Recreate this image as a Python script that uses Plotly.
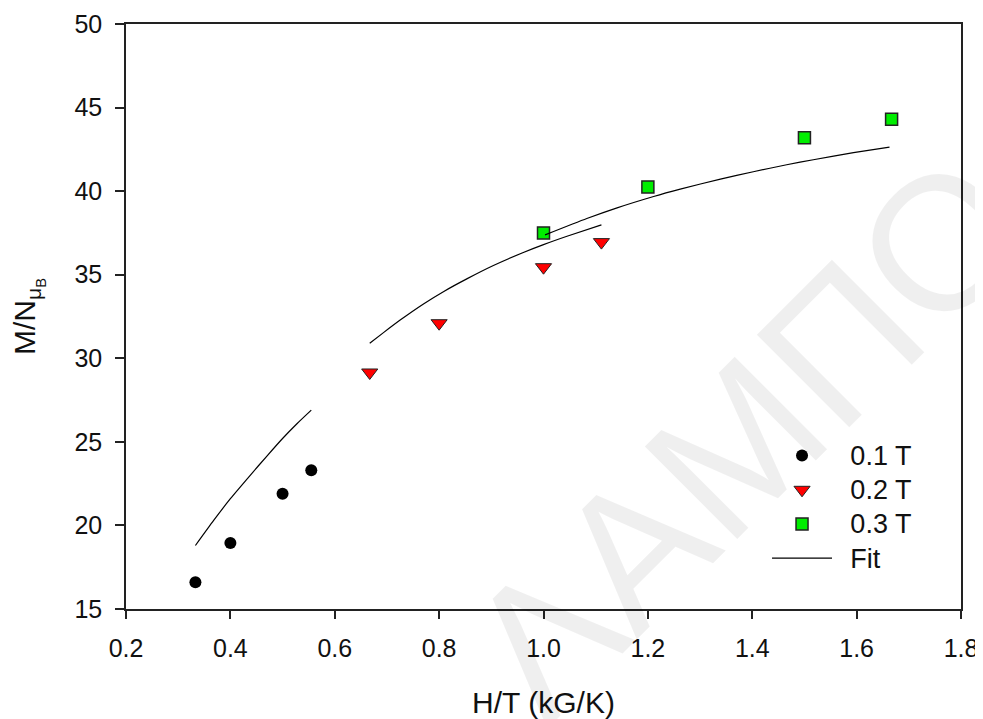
import plotly.graph_objects as go

# Data
x_01 = [0.333, 0.4, 0.5, 0.555]
y_01 = [16.6, 18.95, 21.9, 23.3]
x_02 = [0.667, 0.8, 1.0, 1.111]
y_02 = [29.15, 32.1, 35.45, 36.95]
x_03 = [1.0, 1.2, 1.5, 1.667]
y_03 = [37.5, 40.25, 43.2, 44.3]

fit1_x = [0.333, 0.368, 0.4, 0.438, 0.47, 0.5, 0.528, 0.555]
fit1_y = [18.8, 20.3, 21.6, 23.0, 24.15, 25.2, 26.1, 26.9]
fit2_x = [0.667, 0.694, 0.726, 0.77, 0.809, 0.853, 0.904, 0.959, 1.0, 1.045, 1.111]
fit2_y = [30.9, 31.55, 32.3, 33.25, 34.0, 34.75, 35.55, 36.3, 36.8, 37.3, 37.98]
fit3_x = [1.003, 1.083, 1.141, 1.211, 1.262, 1.339, 1.402, 1.466, 1.517, 1.594, 1.663]
fit3_y = [37.38, 38.36, 39.0, 39.68, 40.12, 40.72, 41.16, 41.58, 41.88, 42.3, 42.63]

x_ticks = [0.2, 0.4, 0.6, 0.8, 1.0, 1.2, 1.4, 1.6, 1.8]
y_ticks = [15, 20, 25, 30, 35, 40, 45, 50]

FONT = "Arial, Liberation Sans, sans-serif"
TXT = "#111111"


def lg(s):
    return "\u00a0\u00a0<span style='font-size:27px'>" + s + "</span>"


fig = go.Figure()

fig.add_trace(go.Scatter(x=x_01, y=y_01, mode="markers", name=lg("0.1 T"),
                         marker=dict(symbol="circle", size=12, color="black",
                                     line=dict(width=0))))
fig.add_trace(go.Scatter(x=x_02, y=y_02, mode="markers", name=lg("0.2 T"),
                         marker=dict(symbol="triangle-down", size=14, color="#ff0000",
                                     line=dict(width=1, color="#222222"))))
fig.add_trace(go.Scatter(x=x_03, y=y_03, mode="markers", name=lg("0.3 T"),
                         marker=dict(symbol="square", size=12, color="#00ee00",
                                     line=dict(width=1.5, color="#222222"))))
for i, (fx, fy) in enumerate([(fit1_x, fit1_y), (fit2_x, fit2_y), (fit3_x, fit3_y)]):
    fig.add_trace(go.Scatter(x=fx, y=fy, mode="lines", name=lg("Fit"),
                             legendgroup="fit", showlegend=(i == 0),
                             line=dict(color="black", width=1.2, shape="spline", smoothing=0.6)))

# watermark: translucent so it never hides what lies beneath it
fig.add_annotation(text="ΛΑΜΠΟ", xref="paper", yref="paper", x=0.7437, y=0.2957,
                   xanchor="center", yanchor="middle", showarrow=False, textangle=-45,
                   font=dict(family=FONT, size=190, color="rgba(0,0,0,0.062)"))

fig.update_layout(
    width=975, height=711,
    margin=dict(l=118, r=22, t=16, b=110, autoexpand=False),
    paper_bgcolor="white", plot_bgcolor="rgba(0,0,0,0)",
    font=dict(family=FONT, size=25, color=TXT),
    showlegend=True,
    legend=dict(x=0.7677, y=0.300, xanchor="left", yanchor="top",
                bgcolor="rgba(0,0,0,0)", font=dict(size=24, color=TXT),
                itemwidth=60, tracegroupgap=0),
)
fig.update_xaxes(range=[0.2, 1.8], tickvals=x_ticks, ticktext=[f"{v:.1f}" for v in x_ticks],
                 automargin=False,
                 showgrid=False, zeroline=False, showline=True, linecolor="#222222", linewidth=1.5,
                 mirror=True, ticks="outside", ticklen=8, tickwidth=1.5, tickcolor="#222222",
                 ticklabelstandoff=8,
                 tickfont=dict(size=25, color=TXT),
                 title=dict(text="H/T (kG/K)", font=dict(size=30, color=TXT), standoff=31))
fig.update_yaxes(range=[15, 50], tickvals=y_ticks, automargin=False,
                 showgrid=False, zeroline=False, showline=True, linecolor="#222222", linewidth=1.5,
                 mirror=True, ticks="outside", ticklen=9, tickwidth=1.5, tickcolor="#222222",
                 ticklabelstandoff=8,
                 tickfont=dict(size=25, color=TXT),
                 title=dict(text="M/N<sub>μ<sub>B</sub></sub>", font=dict(size=30, color=TXT), standoff=34))

fig.write_html("out.html")
